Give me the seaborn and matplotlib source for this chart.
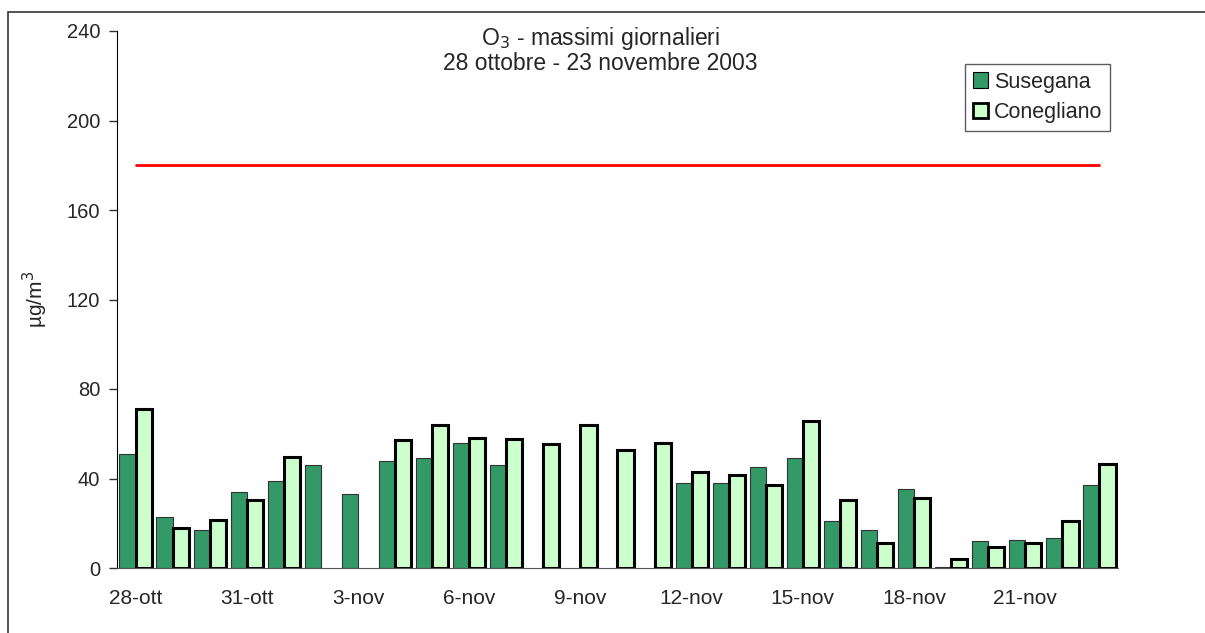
import numpy as np
import pandas as pd
import seaborn as sns
import matplotlib.pyplot as plt
from matplotlib.patches import Rectangle

giorni = ['28-ott', '29-ott', '30-ott', '31-ott', '1-nov', '2-nov', '3-nov', '4-nov', '5-nov',
          '6-nov', '7-nov', '8-nov', '9-nov', '10-nov', '11-nov', '12-nov', '13-nov', '14-nov',
          '15-nov', '16-nov', '17-nov', '18-nov', '19-nov', '20-nov', '21-nov', '22-nov', '23-nov']
susegana = [51, 23, 17, 34, 39, 46, 33, 48, 49, 56, 46, np.nan, np.nan, np.nan, np.nan,
            38, 38, 45, 49, 21, 17, 35.5, 0.4, 12, 12.4, 13.6, 37.3]
conegliano = [71, 18, 21.5, 30.5, 49.6, np.nan, np.nan, 57, 64, 58, 57.6, 55.6, 64, 52.6, 56,
              43, 41.5, 37, 65.7, 30.3, 11.2, 31.3, 4, 9.5, 11.2, 21.1, 46.6]
soglia = 180
etichette = ['28-ott', '31-ott', '3-nov', '6-nov', '9-nov', '12-nov', '15-nov', '18-nov', '21-nov']

df = pd.DataFrame({'giorno': giorni * 2,
                   'valore': susegana + conegliano,
                   'stazione': ['Susegana'] * len(giorni) + ['Conegliano'] * len(giorni)})

sns.set_style('white')
plt.rcParams['font.family'] = ['Liberation Sans', 'DejaVu Sans']

fig = plt.figure(figsize=(12.05, 6.33), dpi=100)
ax = fig.add_axes([117 / 1205, 1 - 568 / 633, 1001 / 1205, 537 / 633])

sns.barplot(data=df, x='giorno', y='valore', hue='stazione', order=giorni,
            palette={'Susegana': '#339966', 'Conegliano': '#CCFFCC'}, saturation=1,
            width=0.87, gap=0, edgecolor='black', errorbar=None, ax=ax)
for bar in ax.containers[0]:
    bar.set_linewidth(0.8)
    bar.set_edgecolor('#333333')
for bar in ax.containers[1]:
    bar.set_linewidth(2.2)

sns.lineplot(x=np.arange(len(giorni)), y=[soglia] * len(giorni), color='red', lw=2, ax=ax, legend=False)

ax.set_xlim(-0.5, len(giorni) - 0.5)
ax.set_ylim(0, 240)
ax.set_yticks(range(0, 241, 40))
ax.set_xticks([giorni.index(e) for e in etichette])
ax.set_xticklabels(etichette)
ax.set_xticks(np.arange(-0.5, len(giorni), 3), minor=True)
ax.tick_params(axis='x', which='major', length=0, labelsize=15, pad=15)
ax.tick_params(axis='x', which='minor', length=6, width=1, color='#333333', direction='out')
ax.tick_params(axis='y', length=6, width=1, color='#333333', labelsize=14.5, direction='out', left=True, pad=6)
for s in ['top', 'right']:
    ax.spines[s].set_visible(False)
ax.spines['left'].set_color('black')
ax.spines['bottom'].set_color('#555555')
ax.set_xlabel('')
ax.set_ylabel('µg/m$^3$', fontsize=15, labelpad=12)

fig.text(0.4985, 1 - 39 / 633, 'O$_3$ - massimi giornalieri', ha='center', va='center', fontsize=16.5)
fig.text(0.4985, 1 - 63 / 633, '28 ottobre - 23 novembre 2003', ha='center', va='center', fontsize=16.5)

leg = ax.legend(loc='upper left', bbox_to_anchor=(965 / 1205, 1 - 64 / 633), bbox_transform=fig.transFigure,
                frameon=True, fancybox=False, fontsize=15.5, handlelength=0.7, handleheight=0.7,
                handletextpad=0.3, borderpad=0.35, labelspacing=0.45, borderaxespad=0)
leg.get_frame().set_edgecolor('#333333')
leg.get_frame().set_linewidth(1)
for h in leg.legend_handles:
    h.set_edgecolor('black')
leg.legend_handles[0].set_linewidth(0.8)
leg.legend_handles[1].set_linewidth(2)

fig.patches.append(Rectangle((8 / 1205, -0.1), 1.2, 1 - 12 / 633 + 0.1, transform=fig.transFigure,
                             fill=False, edgecolor='#333333', lw=1.2))

fig.savefig('out.png', dpi=100)
